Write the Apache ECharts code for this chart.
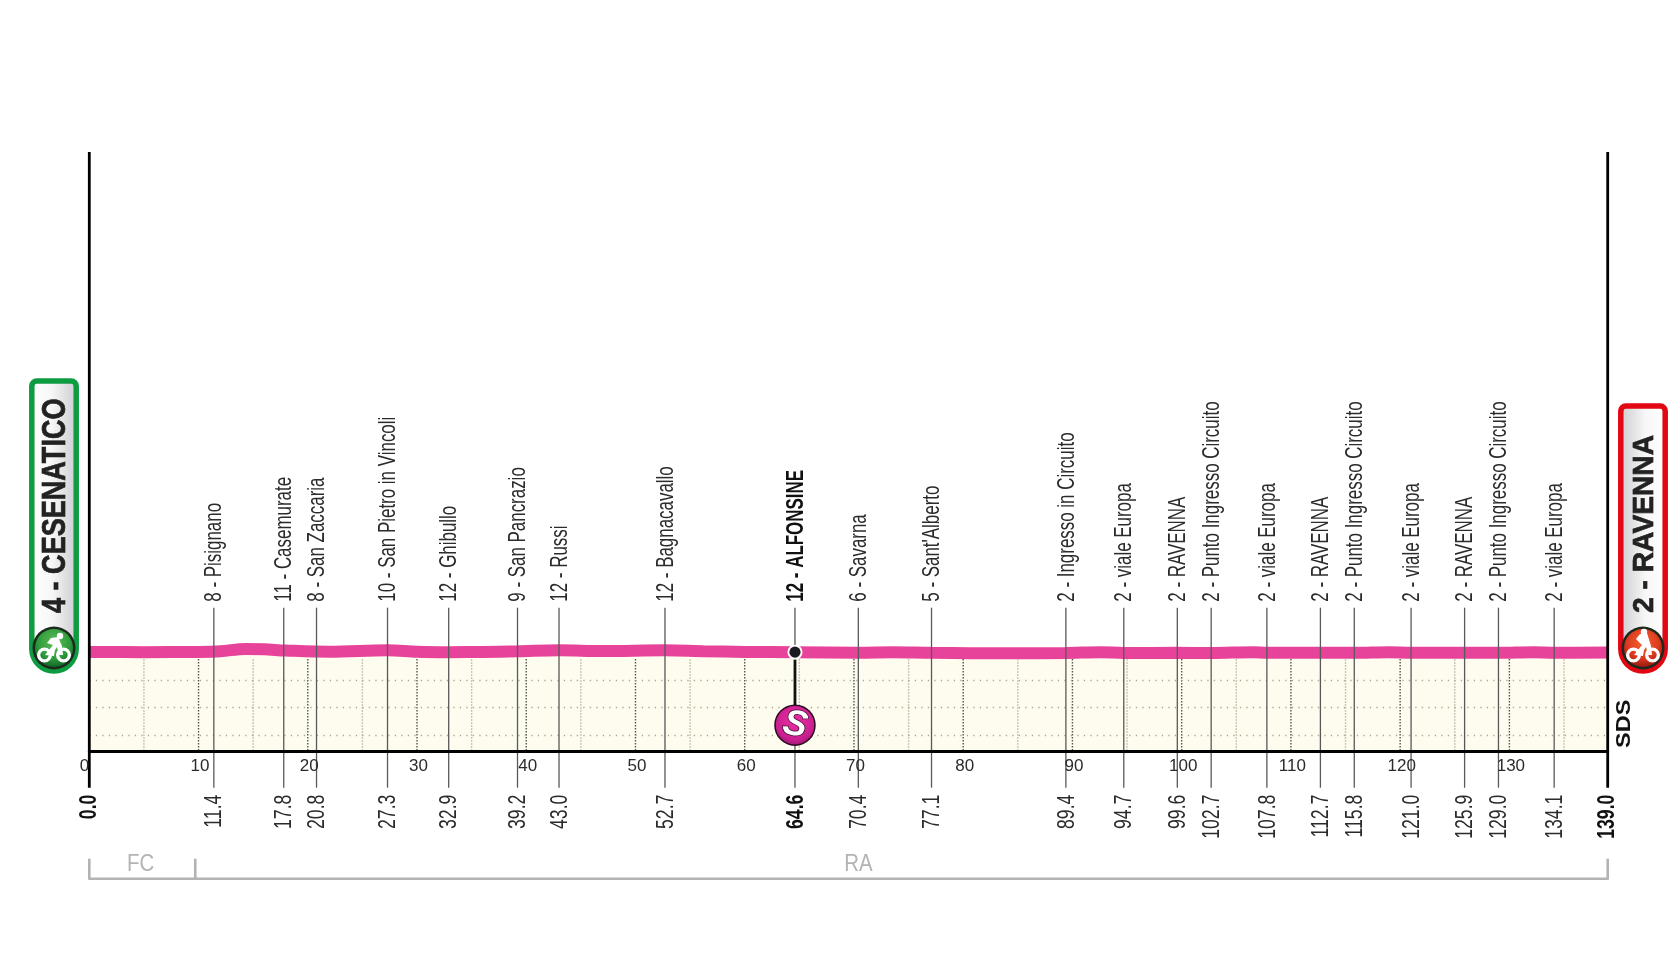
<!DOCTYPE html>
<html><head><meta charset="utf-8">
<style>html,body{margin:0;padding:0;background:#fff}#c{width:1680px;height:960px}</style>
<script src="https://cdn.jsdelivr.net/npm/echarts@6/dist/echarts.min.js"></script>
</head><body><div id="c"></div>
<script>
// ---- data ----
const profileKm  = [0,5,10,12,14.3,16,18,22,27.3,30,33,36,39.2,43,47,52.7,56.2,60,64.6,70.4,73.6,77.1,84.3,89.4,92.6,94.7,99.6,102.7,106.6,107.8,112.7,115.8,119,121,125.9,129,132.2,134.1,139];
const profileAlt = [4,3,4,6.5,15,13.5,9,4.5,10,4.5,3,4,6,10,7,10,6.5,4,3,1,2.5,0.5,-1,0,3,0,0.7,0,3,0.7,0.7,0.7,3,0.4,0.7,0.4,3,0.7,2];
const wayKm    = [11.4,17.8,20.8,27.3,32.9,39.2,43.0,52.7,64.6,70.4,77.1,89.4,94.7,99.6,102.7,107.8,112.7,115.8,121.0,125.9,129.0,134.1];
const wayNames = ["8 - Pisignano","11 - Casemurate","8 - San Zaccaria","10 - San Pietro in Vincoli","12 - Ghibullo","9 - San Pancrazio","12 - Russi","12 - Bagnacavallo","12 - ALFONSINE","6 - Savarna","5 - Sant'Alberto","2 - Ingresso in Circuito","2 - viale Europa","2 - RAVENNA","2 - Punto Ingresso Circuito","2 - viale Europa","2 - RAVENNA","2 - Punto Ingresso Circuito","2 - viale Europa","2 - RAVENNA","2 - Punto Ingresso Circuito","2 - viale Europa"];
const sprintKm = 64.6;
const endKm = [0,139];
const regionEdges = [0,9.7,139];
const regionNames = ["FC","RA"];
const regionLabelKm = [4.7,70.4];
const gridAlts = [-100,-200,-300];
const majorKm = [10,20,30,40,50,60,70,80,90,100,110,120,130];
const minorKm = [5,15,25,35,45,55,65,75,85,95,105,115,125,135];
const startName = "4 - CESENATICO";
const finishName = "2 - RAVENNA";

const NARROW = '"Liberation Sans Narrow","Liberation Sans",sans-serif';
const INK = '#2b2b2b';

function vtext(x, y, text, size, weight, align, fill, sx) {
  return {type:'text', x, y, rotation:Math.PI/2, scaleX:sx, silent:true,
    style:{text, fontFamily:NARROW, fontSize:size, fontWeight:weight, fill:fill||INK,
      align:align, verticalAlign:'middle', textAlign:align, textVerticalAlign:'middle'}};
}
function bike(cx, cy, dark, mid, light, tall) {
  const s = {fill:'#fff'};
  const top = tall ? -17 : -13;
  return {type:'group', x:cx, y:cy, silent:true, children:[
    {type:'circle', shape:{cx:0,cy:0,r:21.5}, style:{fill:'#1c2a1e'}},
    {type:'circle', shape:{cx:0,cy:0,r:19}, style:{fill:{type:'radial',x:.5,y:.35,r:.7,colorStops:[{offset:0,color:light},{offset:.6,color:mid},{offset:1,color:dark}]}}},
    {type:'ring', shape:{cx:-9.5,cy:7,r:7.5,r0:4.2}, style:s},
    {type:'ring', shape:{cx:9.5,cy:7,r:7.5,r0:4.2}, style:s},
    {type:'polygon', shape:{points:[[-9,7],[-1,-3],[-7,top+8],[-3,top+3],[4,top+2],[8,-2],[9,7],[5,7],[3,-1],[1,2],[0,8]]}, style:s},
    {type:'circle', shape:{cx:tall?1:6,cy:top+1,r:3.2}, style:s}
  ]};
}
function badge(x, y, w, h, color, dir) {
  return {type:'rect', silent:true, shape:{x,y,width:w,height:h,r:[5,5,w/2,w/2]},
    style:{stroke:color,lineWidth:5.5,fill:{type:'linear',x:dir?0:1,y:0,x2:dir?1:0,y2:0,
      colorStops:[{offset:0,color:'#c9c9cf'},{offset:.55,color:'#f7f7f7'},{offset:1,color:'#ffffff'}]}}};
}
function title(x, y, text, size, sx) {
  return {type:'text',x,y,rotation:Math.PI/2,scaleX:sx,silent:true,style:{text,fontFamily:'"Liberation Sans",sans-serif',fontWeight:'bold',fontSize:size,
    fill:'#222',stroke:'#222',lineWidth:0.7,align:'left',verticalAlign:'middle',textAlign:'left',textVerticalAlign:'middle'}};
}

const chart = echarts.init(document.getElementById('c'), null, {renderer:'canvas'});
chart.setOption({
  animation:false,
  backgroundColor:'#fff',
  grid:{left:89.3,right:72.3,top:152,bottom:208.3,containLabel:false},
  xAxis:{type:'value',min:0,max:139,interval:10,z:6,
    axisLine:{show:true,onZero:false,lineStyle:{color:'#000',width:2.8}},axisTick:{show:false},splitLine:{show:false},
    axisLabel:{show:true,showMaxLabel:false,alignMinLabel:'right',color:INK,fontFamily:NARROW,fontSize:17,margin:6,padding:[0,0,0,3]}},
  yAxis:{type:'value',min:-361.6,max:1835,show:false,splitLine:{show:false},axisTick:{show:false}},
  series:[
    {type:'line',name:'profile',z:3,data:profileKm.map((k,i)=>[k,profileAlt[i]]),
      smooth:0.35,showSymbol:false,silent:true,
      lineStyle:{color:'#e8439a',width:12,cap:'butt'},
      areaStyle:{origin:'start',color:'#fdfcef',opacity:1}},
    {type:'line',name:'grid',z:2,data:[],silent:true,showSymbol:false,
      markLine:{silent:true,symbol:'none',label:{show:false},animation:false,
        data:gridAlts.map(a=>({yAxis:a,lineStyle:{color:'#a8a794',width:1.3,type:[1.3,5.2]}}))}},
    {type:'custom',name:'verticals',z:4,silent:true,clip:false,
      data:[...majorKm.map(k=>[k,1]),...minorKm.map(k=>[k,0])],
      encode:{x:0},
      renderItem(p,api){
        const x=api.coord([api.value(0),0])[0], y0=api.coord([0,0])[1]+6, y1=p.coordSys.y+p.coordSys.height-1;
        const major=api.value(1)===1;
        return {type:'line',shape:{x1:x,y1:y0,x2:x,y2:y1},
          style:{stroke:major?'#55554e':'#c9c8b6',lineWidth:1.4,lineDash:major?[1.5,1.5]:[2,1]}};
      }},
    {type:'custom',name:'waypoints',z:5,silent:true,clip:false,
      data:wayKm.map((k,i)=>[k,i]),encode:{x:0},
      renderItem(p,api){
        const i=api.value(1),km=wayKm[i],x=api.coord([km,0])[0];
        const base=p.coordSys.y+p.coordSys.height;
        const bold=km===sprintKm;
        return {type:'group',children:[
          {type:'line',shape:{x1:x,y1:base-144,x2:x,y2:base+36},style:{stroke:'#595959',lineWidth:1.3}},
          vtext(x+1,base-150,wayNames[i],24,bold?'bold':'normal','left',bold?'#111':INK,.705),
          vtext(x+1,base+43,km.toFixed(1),24,bold?'bold':'normal','right',bold?'#111':INK,.733)
        ]};
      }},
    {type:'custom',name:'ends',z:6,silent:true,clip:false,
      data:endKm.map(k=>[k]),encode:{x:0},
      renderItem(p,api){
        const k=api.value(0),x=api.coord([k,0])[0];
        return {type:'group',children:[
          {type:'line',shape:{x1:x,y1:p.coordSys.y,x2:x,y2:p.coordSys.y+p.coordSys.height+36},style:{stroke:'#000',lineWidth:2.8}},
          vtext(x,p.coordSys.y+p.coordSys.height+43,k.toFixed(1),24,'bold','right','#111',.733)
        ]};
      }},
    {type:'custom',name:'sprint',z:7,silent:true,clip:false,
      data:[[sprintKm,profileAlt[profileKm.indexOf(sprintKm)]]],encode:{x:0,y:1},
      renderItem(p,api){
        const c=api.coord([api.value(0),api.value(1)]);
        const x=c[0],y=c[1],by=p.coordSys.y+p.coordSys.height-26.5;
        return {type:'group',children:[
          {type:'line',shape:{x1:x,y1:y,x2:x,y2:by},style:{stroke:'#111',lineWidth:2.8}},
          {type:'circle',shape:{cx:x,cy:y,r:7.5},style:{fill:'#fff'}},
          {type:'circle',shape:{cx:x,cy:y,r:5.6},style:{fill:'#1b1b1f'}},
          {type:'circle',shape:{cx:x,cy:by,r:20},style:{stroke:'#2a0a20',lineWidth:1.5,
            fill:{type:'radial',x:.5,y:.4,r:.65,colorStops:[{offset:0,color:'#ee2fa4'},{offset:.7,color:'#c91f8f'},{offset:1,color:'#8a1265'}]}}},
          {type:'text',x:x,y:by,rotation:-0.2,style:{text:'S',fontFamily:'"Liberation Sans",sans-serif',fontStyle:'italic',fontWeight:'bold',fontSize:36,
            fill:'#fff',stroke:'#3a0a2c',lineWidth:1.5,align:'center',verticalAlign:'middle',textAlign:'center',textVerticalAlign:'middle'}}
        ]};
      }},
    {type:'custom',name:'regions',z:5,silent:true,clip:false,
      data:regionNames.map((n,i)=>[regionEdges[i],regionEdges[i+1],regionLabelKm[i],i]),encode:{x:[0,1]},
      renderItem(p,api){
        const a=api.coord([api.value(0),0])[0],b=api.coord([api.value(1),0])[0],l=api.coord([api.value(2),0])[0];
        const base=p.coordSys.y+p.coordSys.height,st={stroke:'#b3b3b3',lineWidth:2.6,fill:null};
        const last=api.value(3)===regionNames.length-1;
        const kids=[
          {type:'line',shape:{x1:a,y1:base+127,x2:b,y2:base+127},style:st},
          {type:'line',shape:{x1:a,y1:base+107,x2:a,y2:base+128},style:st},
          {type:'text',x:l,y:base+113,scaleX:.85,style:{text:regionNames[api.value(3)],fontFamily:NARROW,fontSize:24,fill:'#b3b3b3',
            align:'center',verticalAlign:'middle',textAlign:'center',textVerticalAlign:'middle'}}
        ];
        if(last) kids.push({type:'line',shape:{x1:b,y1:base+107,x2:b,y2:base+128},style:st});
        return {type:'group',children:kids};
      }}
  ],
  graphic:{elements:[
    badge(31.8,381,44.4,290,'#0e9c40',false),
    title(56,613,startName,33,.82),
    bike(54,648,'#0b5c24','#2e9c3c','#63bb5a',false),
    badge(1620.8,406,44.4,265,'#e30613',true),
    title(1645,613,finishName,30,.94),
    bike(1643,648,'#8a1208','#dc3a20','#f2642e',true),
    {type:'text',x:1624,y:748,rotation:Math.PI/2,scaleX:1.12,silent:true,style:{text:'SDS',fontFamily:'"Liberation Sans",sans-serif',fontWeight:'bold',fontSize:21,fill:'#111',align:'left',verticalAlign:'middle',textAlign:'left',textVerticalAlign:'middle'}}
  ]}
});
</script></body></html>
